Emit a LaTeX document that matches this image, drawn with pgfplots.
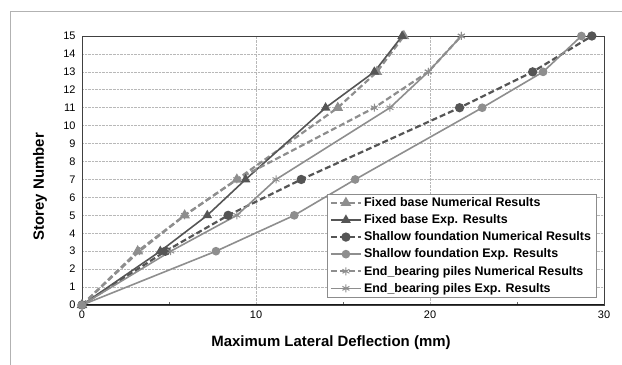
\documentclass[border=0pt]{standalone}
\usepackage{pgfplots}
\pgfplotsset{compat=1.18}
\usepackage{fontspec}
\setmainfont{Liberation Sans}
\definecolor{dk}{HTML}{555555}
\definecolor{lt}{HTML}{8E8E8E}
\begin{document}
\begin{tikzpicture}
\useasboundingbox (0bp,0bp) rectangle (622bp,365bp);
\draw[color=black!30, line width=1bp] (10bp,0bp) -- (10bp,353bp) -- (622bp,353bp);
\begin{axis}[at={(82bp,60bp)}, anchor=south west, width=522bp, height=269bp, scale only axis,
  xmin=0, xmax=30, ymin=0, ymax=15,
  xtick={0,10,20,30}, minor xtick={5,15,25}, ytick={0,1,...,15},
  major tick length=0pt, minor tick length=3bp,
  xtick pos=bottom, ytick pos=left,
  every minor tick/.style={black!60, thin},
  xmajorgrids, ymajorgrids,
  major grid style={densely dotted, black!28, line width=0.6bp},
  axis line style={black!75, line width=0.8bp},
  /pgf/number format/assume math mode=true,
  tick label style={font=\fontsize{11}{13}\selectfont},
  xticklabel style={yshift=-2bp},
  yticklabel style={xshift=-3bp},
  label style={font=\fontsize{15}{17}\selectfont\bfseries},
  xlabel={Maximum Lateral Deflection (mm)},
  ylabel={Storey Number},
  xlabel style={at={(axis description cs:0.477,-0.141)}, anchor=center},
  ylabel style={at={(axis description cs:-0.0805,0.44)}, anchor=center},
  legend cell align=left,
  legend style={font=\fontsize{12.5}{15}\selectfont\bfseries, draw=black!45, fill=white,
    at={(axis description cs:0.985,0.413)}, anchor=north east, row sep=2.6bp,
    inner xsep=3bp, inner ysep=1.5bp},
  legend image code/.code={\draw[mark repeat=2,mark phase=2,#1] plot coordinates {(0bp,0bp) (15bp,0bp) (30bp,0bp)};},
]
\draw[black!75, line width=1.4bp] (axis cs:0,0) -- (axis cs:0,15);
\draw[black!90, line width=1.4bp] (axis cs:0,0) -- (axis cs:30,0);
\addplot[lt, line width=2.2bp, dash pattern=on 6bp off 3bp, mark=triangle*, mark size=4bp, mark options={solid, fill=lt, draw=lt}]
  coordinates {(0,0)(3.2,3)(5.9,5)(8.9,7)(14.7,11)(16.95,13)(18.5,15)};
\addlegendentry{Fixed base Numerical Results}
\addplot[dk, line width=1.6bp, mark=triangle*, mark size=4bp, mark options={solid, fill=dk, draw=dk}]
  coordinates {(0,0)(4.5,3)(7.2,5)(9.4,7)(14.0,11)(16.8,13)(18.4,15)};
\addlegendentry{Fixed base Exp. Results}
\addplot[dk, line width=2.2bp, dash pattern=on 6bp off 3bp, mark=*, mark size=3.5bp, mark options={solid, fill=dk, draw=dk}]
  coordinates {(0,0)(4.8,3)(8.4,5)(12.6,7)(21.7,11)(25.9,13)(29.3,15)};
\addlegendentry{Shallow foundation Numerical Results}
\addplot[lt, line width=1.6bp, mark=*, mark size=3.5bp, mark options={solid, fill=lt, draw=lt}]
  coordinates {(0,0)(7.7,3)(12.2,5)(15.7,7)(23.0,11)(26.5,13)(28.7,15)};
\addlegendentry{Shallow foundation Exp. Results}
\addplot[lt, line width=2.2bp, dash pattern=on 6bp off 3bp, mark=asterisk, mark size=4bp, mark options={solid, draw=lt, line width=1bp}]
  coordinates {(0,0)(3.3,3)(5.9,5)(8.9,7)(16.8,11)(19.9,13)(21.8,15)};
\addlegendentry{End\_bearing piles Numerical Results}
\addplot[lt, line width=1.6bp, mark=asterisk, mark size=4bp, mark options={solid, draw=lt, line width=1bp}]
  coordinates {(0,0)(5.1,3)(8.9,5)(11.15,7)(17.7,11)(19.9,13)(21.8,15)};
\addlegendentry{End\_bearing piles Exp. Results}
\end{axis}
\end{tikzpicture}
\end{document}
